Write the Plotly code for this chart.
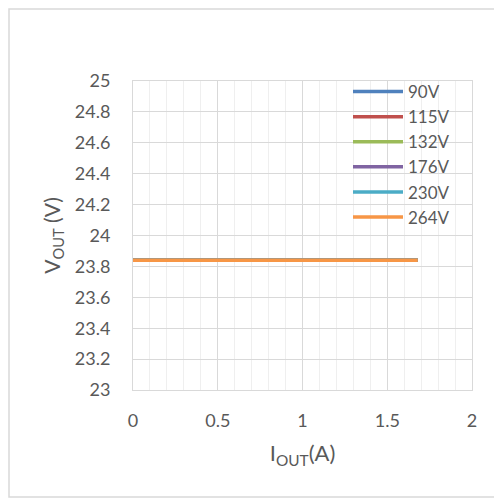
import plotly.graph_objects as go

series_names = ["90V", "115V", "132V", "176V", "230V", "264V"]
series_colors = ["#4F81BD", "#C0504D", "#9BBB59", "#8064A2", "#4BACC6", "#F79646"]
iout = [0.0, 0.42, 0.84, 1.26, 1.68]
vout_90 = [23.84, 23.84, 23.84, 23.84, 23.84]
vout_115 = [23.84, 23.84, 23.84, 23.84, 23.84]
vout_132 = [23.84, 23.84, 23.84, 23.84, 23.84]
vout_176 = [23.84, 23.84, 23.84, 23.84, 23.84]
vout_230 = [23.84, 23.84, 23.84, 23.84, 23.84]
vout_264 = [23.84, 23.84, 23.84, 23.84, 23.84]
all_vout = [vout_90, vout_115, vout_132, vout_176, vout_230, vout_264]

x_ticks = [0, 0.5, 1, 1.5, 2]
x_tick_labels = ["0", "0.5", "1", "1.5", "2"]
y_ticks = [23, 23.2, 23.4, 23.6, 23.8, 24, 24.2, 24.4, 24.6, 24.8, 25]
y_tick_labels = ["23", "23.2", "23.4", "23.6", "23.8", "24", "24.2", "24.4", "24.6", "24.8", "25"]

FONT = "Lato, 'Open Sans', sans-serif"
TXT = "#595959"

fig = go.Figure()
for name, color, ys in zip(series_names, series_colors, all_vout):
    fig.add_trace(go.Scatter(x=iout, y=ys, name=name, mode="lines",
                             line=dict(color=color, width=3.5)))

W, H = 502, 501
L, T = 125, 73
pw, ph = 339, 309
R, B = W - L - pw, H - T - ph
bottom = H - B  # plot bottom in figure px

fig.update_layout(
    width=W, height=H,
    margin=dict(l=L, r=R, t=T, b=B, pad=0),
    paper_bgcolor="white", plot_bgcolor="white",
    font=dict(family=FONT, color=TXT, size=18),
    showlegend=True,
    legend=dict(x=(340 - L) / pw, y=(bottom - 66) / ph, xanchor="left", yanchor="top",
                bgcolor="rgba(0,0,0,0)", font=dict(size=17, color=TXT),
                tracegroupgap=0, itemwidth=50),
    xaxis=dict(range=[0, 2], tickvals=x_ticks, ticktext=x_tick_labels,
               tickfont=dict(size=18),
               showgrid=True, gridcolor="#D9D9D9", gridwidth=1,
               minor=dict(dtick=0.1, showgrid=True, gridcolor="#EFEFEF", gridwidth=1),
               zeroline=False, showline=True, linecolor="#D9D9D9", mirror=True,
               ticks="", ticklabelstandoff=14,
               title=dict(text="I<sub>OUT</sub>(A)", font=dict(size=22, color=TXT), standoff=16)),
    yaxis=dict(range=[23, 25], tickvals=y_ticks, ticktext=y_tick_labels,
               tickfont=dict(size=18),
               showgrid=True, gridcolor="#D9D9D9", gridwidth=1,
               zeroline=False, showline=True, linecolor="#D9D9D9", mirror=True,
               ticks="", ticklabelstandoff=18,
               title=dict(text="V<sub>OUT</sub> (V)", font=dict(size=21, color=TXT), standoff=8)),
    shapes=[dict(type="rect", xref="paper", yref="paper",
                 x0=(1 - L) / pw, x1=(491 - L) / pw,
                 y0=(bottom - 489) / ph, y1=(bottom - 1) / ph,
                 line=dict(color="#D9D9D9", width=1.5), layer="below")],
)

fig.write_html("out.html")
